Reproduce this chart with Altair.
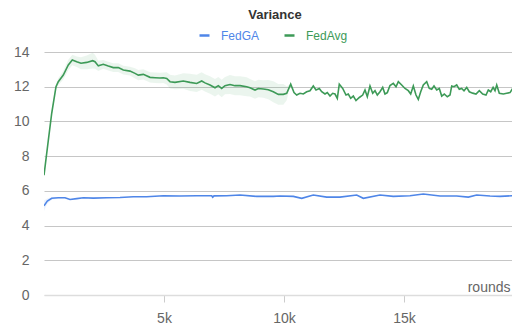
import altair as alt
import pandas as pd

BLUE = "#4f86e8"
GREEN = "#3d9a57"
FONT = "Liberation Sans"

series_names = ["FedGA", "FedAvg"]

fedavg_rounds = [0, 179, 321, 500, 596, 804, 1013, 1179, 1363, 1542, 1779, 2029, 2125, 2263,
                 2471, 2679, 2888, 3096, 3304, 3583, 3792, 3929, 4138, 4417, 4625, 4833, 4971,
                 5113, 5250, 5458, 5804, 6083, 6363, 6571, 6708, 6917, 7125, 7263, 7404, 7542,
                 7750, 7958, 8167, 8446, 8583, 8792, 8929, 9138, 9346, 9554, 9763, 9971, 10113,
                 10279, 10417, 10529, 10667, 10804, 10946, 11083, 11221, 11333, 11471, 11571,
                 11708, 11804, 11917, 12029, 12125, 12221, 12304, 12446, 12583, 12679, 12779,
                 12888, 13000, 13138, 13279, 13375, 13471, 13583, 13696, 13792, 13888, 14000,
                 14113, 14208, 14304, 14417, 14554, 14667, 14763, 14904, 15042, 15179, 15279,
                 15388, 15500, 15596, 15696, 15804, 15946, 16054, 16154, 16250, 16363, 16471,
                 16571, 16679, 16804, 16917, 16988, 17083, 17196, 17304, 17404, 17500, 17613,
                 17721, 17863, 18000, 18138, 18279, 18417, 18513, 18613, 18713, 18792, 18863,
                 18971, 19138, 19279, 19417, 19529, 19667, 19763, 19833]
fedavg_values = [6.9, 8.9, 10.47, 12.0, 12.29, 12.67, 13.25, 13.54, 13.44, 13.35, 13.4, 13.5, 13.44,
                 13.2, 13.29, 13.19, 13.1, 13.1, 12.96, 12.9, 12.77, 12.67, 12.71, 12.54, 12.52,
                 12.5, 12.52, 12.48, 12.29, 12.25, 12.33, 12.25, 12.19, 12.33, 12.22, 12.1, 11.94,
                 12.06, 11.9, 12.06, 12.13, 12.06, 12.06, 12.0, 11.94, 11.81, 11.9, 11.87, 11.83,
                 11.71, 11.56, 11.56, 11.62, 12.15, 11.66, 11.52, 11.62, 11.58, 11.71, 11.77,
                 12.04, 11.81, 11.9, 11.71, 11.58, 11.66, 11.46, 11.62, 11.58, 11.33, 12.15, 11.9,
                 11.52, 11.58, 11.33, 11.46, 11.2, 11.38, 11.52, 11.81, 11.42, 12.04, 11.62, 11.77,
                 11.52, 11.71, 11.96, 11.58, 11.66, 12.07, 12.19, 12.0, 12.29, 12.1, 11.9, 11.77,
                 11.58, 12.04, 11.52, 11.27, 11.71, 12.1, 12.29, 11.9, 11.85, 12.04, 11.81, 11.9,
                 11.46, 11.58, 11.42, 11.52, 12.04, 12.0, 12.1, 11.85, 11.9, 11.77, 11.96, 11.71,
                 11.63, 11.58, 11.77, 11.58, 11.52, 11.81, 11.71, 11.96, 11.77, 12.1, 11.62, 11.58,
                 11.62, 11.66, 11.9, 12.34, 12.1, 11.96]
# half-width of the shaded band around FedAvg (first part of the run only)
fedavg_spread = [0.1, 0.1, 0.12, 0.15, 0.2, 0.25, 0.3, 0.3, 0.3, 0.35, 0.4, 0.45, 0.4, 0.3,
                 0.25, 0.25, 0.25, 0.25, 0.25, 0.25, 0.3, 0.3, 0.3, 0.3, 0.3, 0.3, 0.3, 0.35,
                 0.4, 0.4, 0.45, 0.5, 0.5, 0.5, 0.5, 0.5, 0.5, 0.5, 0.5, 0.5, 0.55, 0.55, 0.55,
                 0.55, 0.5, 0.5, 0.5, 0.5, 0.55, 0.6, 0.6, 0.6, 0.4, 0.0]

fedga_rounds = [0, 138, 321, 596, 875, 1083, 1363, 1638, 2054, 2613, 3167, 3721, 4279, 4971,
                5667, 6363, 6988, 7029, 7083, 7613, 8167, 8863, 9554, 9833, 10388, 10738, 11221,
                11779, 12333, 13029, 13304, 14000, 14554, 15250, 15804, 16500, 17196, 17679,
                18029, 18583, 19000, 19554, 19833]
fedga_values = [5.14, 5.41, 5.57, 5.6, 5.6, 5.5, 5.55, 5.6, 5.58, 5.6, 5.62, 5.66, 5.66, 5.72,
                5.7, 5.72, 5.72, 5.63, 5.71, 5.72, 5.76, 5.68, 5.68, 5.7, 5.68, 5.57, 5.76, 5.64,
                5.64, 5.76, 5.57, 5.76, 5.68, 5.72, 5.82, 5.7, 5.7, 5.64, 5.76, 5.7, 5.68, 5.72,
                5.7]
fedga_spread = [0.3, 0.15, 0.08, 0.05, 0.04, 0.0]

y_ticks = [0, 2, 4, 6, 8, 10, 12, 14]
x_ticks = [5000, 10000, 15000]
x_max = 19500

fedga_df = pd.DataFrame({"series": "FedGA", "round": fedga_rounds, "value": fedga_values})
fedavg_df = pd.DataFrame({"series": "FedAvg", "round": fedavg_rounds, "value": fedavg_values})

def band(name, rounds, values, spread):
    n = len(spread)
    return pd.DataFrame({
        "series": name,
        "round": rounds[:n],
        "lo": [v - s for v, s in zip(values[:n], spread)],
        "hi": [v + s for v, s in zip(values[:n], spread)],
    })

bands = pd.concat([
    band("FedGA", fedga_rounds, fedga_values, fedga_spread),
    band("FedAvg", fedavg_rounds, fedavg_values, fedavg_spread),
])

x_scale = alt.Scale(domain=[0, x_max], nice=False, zero=False)
y_scale = alt.Scale(domain=[0, 14], nice=False)

x_axis = alt.Axis(
    values=x_ticks,
    labelExpr="datum.value / 1000 + 'k'",
    title="rounds",
    titleAnchor="end",
    titleAlign="right",
    titleBaseline="alphabetic",
    titleX=466,
    titleY=-4,
    titleFontWeight="normal",
    titleFontSize=14,
    titleColor="#666666",
    grid=False,
    domainColor="#dddddd",
    domainWidth=1.5,
    tickColor="#cccccc",
    tickSize=7,
    labelPadding=9,
    labelFontSize=14,
    labelColor="#666666",
    labelFlush=False,
)
y_axis = alt.Axis(
    values=y_ticks,
    title=None,
    domain=False,
    ticks=False,
    grid=True,
    gridColor={"condition": {"test": "datum.value === 0", "value": "#e4e4e4"}, "value": "#c6c6c6"},
    gridWidth=1.2,
    labelPadding=15,
    labelFontSize=14,
    labelColor="#666666",
    labelOverlap=False,
    minExtent=36,
    maxExtent=36,
)

def legend(x, colour):
    return alt.Legend(
        title=None,
        orient="none",
        direction="horizontal",
        legendX=x,
        legendY=-23,
        padding=0,
        symbolType="stroke",
        symbolStrokeWidth=2.5,
        symbolSize=100,
        labelFontSize=12,
        labelOffset=10,
        labelColor=colour,
    )

band_layer = alt.Chart(bands).mark_area(fillOpacity=0.1, clip=True).encode(
    x=alt.X("round:Q", scale=x_scale, axis=x_axis),
    y=alt.Y("lo:Q", scale=y_scale, axis=y_axis),
    y2="hi:Q",
    fill=alt.Fill("series:N", scale=alt.Scale(domain=series_names, range=[BLUE, GREEN]), legend=None),
    detail="series:N",
)

fedga_layer = alt.Chart(fedga_df).mark_line(strokeWidth=1.6, clip=True).encode(
    x=alt.X("round:Q", scale=x_scale, axis=x_axis),
    y=alt.Y("value:Q", scale=y_scale, axis=y_axis),
    color=alt.Color("series:N", scale=alt.Scale(domain=["FedGA"], range=[BLUE]),
                    legend=legend(154, BLUE)),
)

fedavg_layer = alt.Chart(fedavg_df).mark_line(strokeWidth=1.6, clip=True).encode(
    x=alt.X("round:Q", scale=x_scale, axis=x_axis),
    y=alt.Y("value:Q", scale=y_scale, axis=y_axis),
    stroke=alt.Stroke("series:N", scale=alt.Scale(domain=["FedAvg"], range=[GREEN]),
                      legend=legend(239, GREEN)),
)

chart = alt.layer(band_layer, fedga_layer, fedavg_layer).properties(
    width=468,
    height=243,
    title=alt.TitleParams(
        "Variance",
        anchor="middle",
        offset=7,
        dx=-3,
        fontSize=13,
        fontWeight="bold",
        color="#333333",
        font=FONT,
    ),
).configure(font=FONT, padding={"top": 1, "left": 0, "right": 0, "bottom": 0}).configure_view(stroke=None)

chart.save("out.html", embed_options={"renderer": "svg", "actions": False})
